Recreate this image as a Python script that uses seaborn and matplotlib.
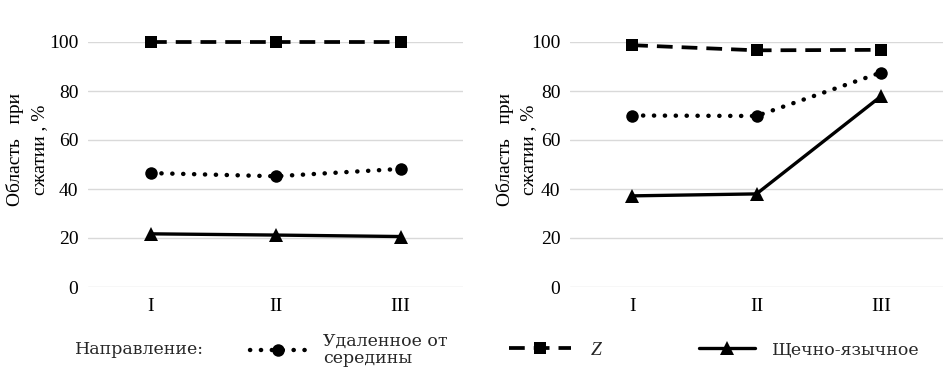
import matplotlib
matplotlib.use("Agg")
import matplotlib.pyplot as plt
import seaborn as sns
import pandas as pd
from matplotlib.lines import Line2D

categories = ["I", "II", "III"]
series_names = ["Удаленное от\nсередины", "Z", "Щечно-язычное"]
left_dotted = [46.5, 45.2, 48.2]
left_z = [100, 100, 100]
left_solid = [21.7, 21.2, 20.6]
right_dotted = [70, 69.8, 87.5]
right_z = [98.7, 96.6, 96.8]
right_solid = [37.2, 38.0, 77.8]
yticks = [0, 20, 40, 60, 80, 100]

sns.set_theme(style="white")
plt.rcParams["font.family"] = ["Liberation Serif", "DejaVu Serif"]

fig = plt.figure(figsize=(9.43, 3.78), dpi=100)
bottom = 1 - 287 / 378
height = (287 - 42) / 378
ax1 = fig.add_axes([88 / 943, bottom, 375 / 943, height])
ax2 = fig.add_axes([570 / 943, bottom, 373 / 943, height])

styles = {
    series_names[0]: dict(ls=(0, (0.05, 2.4)), marker="o", ms=9, lw=3.2, capstyle="round"),
    series_names[1]: dict(ls=(0, (4.2, 2.4)), marker="s", ms=9, lw=2.7, capstyle="butt"),
    series_names[2]: dict(ls="-", marker="^", ms=10, lw=2.4, capstyle="butt"),
}

for ax, vals, lx in [(ax1, [left_dotted, left_z, left_solid], -0.107),
                     (ax2, [right_dotted, right_z, right_solid], -0.088)]:
    for name, v in zip(series_names, vals):
        df = pd.DataFrame({"cat": categories, "val": v})
        st = styles[name]
        sns.lineplot(data=df, x="cat", y="val", ax=ax, color="black", lw=st["lw"],
                     marker=st["marker"], markersize=st["ms"], markeredgewidth=0,
                     sort=False, legend=False, clip_on=False)
        line = ax.lines[-1]
        line.set_linestyle(st["ls"])
        line.set_dash_capstyle(st["capstyle"])
    ax.set_xlim(-0.5, 2.5)
    ax.set_ylim(0, 100)
    ax.set_yticks(yticks)
    ax.grid(axis="y", color="#d9d9d9", lw=1)
    ax.set_axisbelow(True)
    for s in ax.spines.values():
        s.set_visible(False)
    ax.tick_params(axis="both", labelsize=14, length=0, colors="black")
    ax.tick_params(axis="y", pad=7)
    ax.tick_params(axis="x", pad=8)
    ax.set_xlabel("")
    ax.set_ylabel("Область   при\nсжатии , %", fontsize=14, color="black",
                  linespacing=1.5)
    ax.yaxis.set_label_coords(lx, 0.56)

legend_font = ["DejaVu Serif"]
fig.text(75 / 943, 1 - 350 / 378, "Направление:", fontsize=12.5, va="center", ha="left",
         family=legend_font)

legend_pos = [250, 509, 699]
for i, name in enumerate(series_names):
    st = styles[name]
    h = Line2D([], [], color="black", lw=st["lw"], ls=st["ls"], marker=st["marker"],
               ms=st["ms"], markeredgewidth=0, dash_capstyle=st["capstyle"])
    prop = {"size": 12.5, "family": legend_font}
    if name == "Z":
        prop["style"] = "italic"
        prop["family"] = ["Liberation Serif"]
        prop["size"] = 14
    leg = fig.legend(handles=[h], labels=[name], loc="center left",
                     bbox_to_anchor=(legend_pos[i] / 943, 1 - 350 / 378),
                     frameon=False, prop=prop, handlelength=3.2, handletextpad=1.0,
                     borderpad=0, borderaxespad=0)
    for t in leg.get_texts():
        t.set_linespacing(1.05)

fig.savefig("out.png", dpi=100)
